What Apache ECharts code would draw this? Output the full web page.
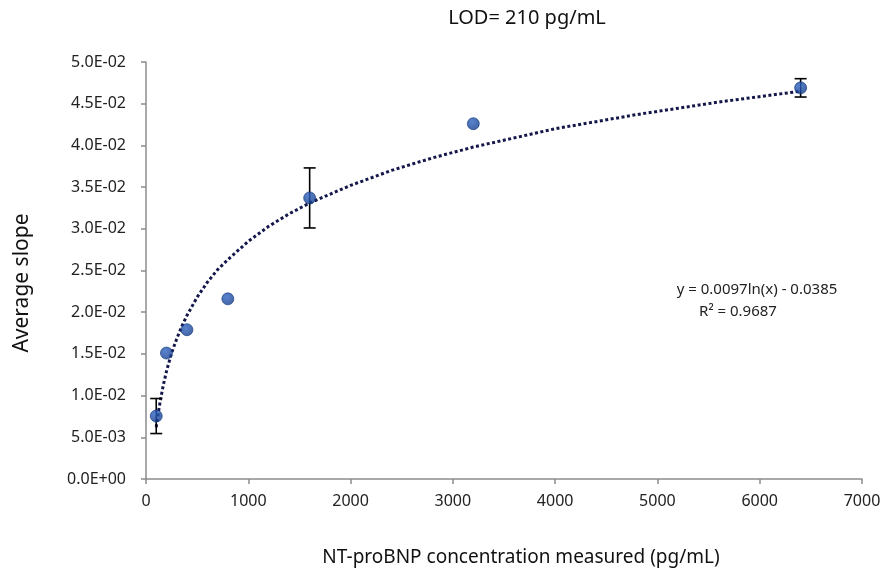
<!DOCTYPE html>
<html><head><meta charset="utf-8">
<script src="https://cdn.jsdelivr.net/npm/echarts@6/dist/echarts.min.js"></script>
<style>html,body{margin:0;padding:0;background:#fff}#c{width:886px;height:573px}</style>
</head><body><div id="c"></div>
<script>
// Measured data
var concentrations = [100, 200, 400, 800, 1600, 3200, 6400];
var avgSlope = [0.00755, 0.0151, 0.0179, 0.0216, 0.0337, 0.0426, 0.0469];
var slopeErr = [0.0021, 0, 0, 0, 0.0036, 0, 0.0011];
// Logarithmic trendline points
var trendX = [100, 120, 140, 170, 200, 250, 300, 350, 400, 500, 600, 700, 800, 1000, 1200, 1400, 1600, 2000, 2400, 2800, 3200, 4000, 4800, 5600, 6400];
var trendY = [0.0062, 0.0079, 0.0094, 0.0113, 0.0129, 0.0151, 0.0168, 0.0183, 0.0196, 0.0218, 0.0236, 0.0251, 0.0263, 0.0285, 0.0303, 0.0318, 0.0331, 0.0352, 0.0370, 0.0385, 0.0398, 0.0420, 0.0437, 0.0452, 0.0465];
var yTicks = ['0.0E+00','5.0E-03','1.0E-02','1.5E-02','2.0E-02','2.5E-02','3.0E-02','3.5E-02','4.0E-02','4.5E-02','5.0E-02'];
var titleText = 'LOD= 210 pg/mL';
var xName = 'NT-proBNP concentration measured (pg/mL)';
var yName = 'Average slope';
var eqLine1 = 'y = 0.0097ln(x) - 0.0385';
var eqLine2 = 'R\u00b2 = 0.9687';

var FONT = '"Noto Sans", "Open Sans", sans-serif';
var chart = echarts.init(document.getElementById('c'));
var pts = concentrations.map(function(x,i){return [x, avgSlope[i]];});
var errData = concentrations.map(function(x,i){return [x, avgSlope[i]-slopeErr[i], avgSlope[i]+slopeErr[i]];});
var trend = trendX.map(function(x,i){return [x, trendY[i]];});

chart.setOption({
  animation:false,
  backgroundColor:'#fff',
  graphic:[
    {type:'text',position:[527,18],style:{text:titleText,x:0,y:0,font:'20px '+FONT,fill:'#111',textAlign:'center',textVerticalAlign:'middle'}},
    {type:'text',position:[521,558],style:{text:xName,x:0,y:0,font:'19px '+FONT,fill:'#111',textAlign:'center',textVerticalAlign:'middle'}},
    {type:'text',rotation:Math.PI/2,position:[22,283],style:{text:yName,x:0,y:0,font:'21px '+FONT,fill:'#111',textAlign:'center',textVerticalAlign:'middle'}},
    {type:'text',position:[757,290],style:{text:eqLine1,x:0,y:0,font:'15px '+FONT,fill:'#222',textAlign:'center',textVerticalAlign:'middle'}},
    {type:'text',position:[738,312],style:{text:eqLine2,x:0,y:0,font:'15px '+FONT,fill:'#222',textAlign:'center',textVerticalAlign:'middle'}}
  ],
  grid:{left:146,right:24,top:62,bottom:94},
  xAxis:{type:'value',min:0,max:7000,interval:1000,
    axisLine:{lineStyle:{color:'#8c8c8c',width:1.5}},
    axisTick:{show:true,length:5,lineStyle:{color:'#8c8c8c',width:1.5}},
    splitLine:{show:false},
    axisLabel:{fontFamily:FONT,fontSize:16,color:'#222',margin:14,formatter:function(v){return String(v);}}},
  yAxis:{type:'value',min:0,max:0.05,interval:0.005,
    axisLine:{show:true,lineStyle:{color:'#8c8c8c',width:1.5}},
    axisTick:{show:true,length:5,lineStyle:{color:'#8c8c8c',width:1.5}},
    splitLine:{show:false},
    axisLabel:{fontFamily:FONT,fontSize:16,color:'#222',margin:20,
      formatter:function(v){return yTicks[Math.round(v/0.005)];}}},
  series:[
    {type:'line',data:trend,smooth:false,showSymbol:false,symbol:'none',z:2,
      lineStyle:{color:'#14174a',width:3,type:[3,2.5]}},
    {type:'custom',z:3,data:errData,
      renderItem:function(params,api){
        var x=api.value(0), lo=api.value(1), hi=api.value(2);
        if(hi-lo<=0) return null;
        var p1=api.coord([x,lo]), p2=api.coord([x,hi]);
        var cw=6;
        var st={stroke:'#000',lineWidth:1.6};
        return {type:'group',children:[
          {type:'line',shape:{x1:p1[0],y1:p1[1],x2:p2[0],y2:p2[1]},style:st},
          {type:'line',shape:{x1:p1[0]-cw,y1:p1[1],x2:p1[0]+cw,y2:p1[1]},style:st},
          {type:'line',shape:{x1:p2[0]-cw,y1:p2[1],x2:p2[0]+cw,y2:p2[1]},style:st}
        ]};
      }},
    {type:'scatter',data:pts,symbol:'circle',symbolSize:12,z:4,
      itemStyle:{color:new echarts.graphic.RadialGradient(0.4,0.35,0.7,[{offset:0,color:'#2f64c4'},{offset:1,color:'#123b88'}]),borderColor:'#10367c',borderWidth:0.8}}
  ]
});
</script></body></html>
